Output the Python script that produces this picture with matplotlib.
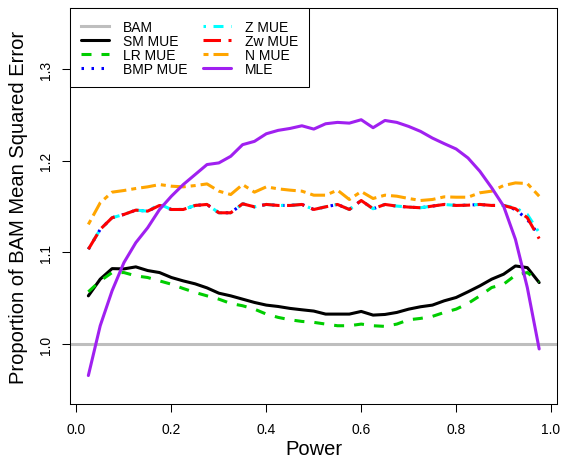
import matplotlib
matplotlib.use("Agg")
import matplotlib.pyplot as plt

plt.rcParams['font.family'] = ['Liberation Sans', 'DejaVu Sans']
plt.rcParams['lines.scale_dashes'] = False

# ---------------- data ----------------
power = [0.025, 0.050, 0.075, 0.100, 0.125, 0.150, 0.175, 0.200, 0.225, 0.250,
         0.275, 0.300, 0.325, 0.350, 0.375, 0.400, 0.425, 0.450, 0.475, 0.500,
         0.525, 0.550, 0.575, 0.600, 0.625, 0.650, 0.675, 0.700, 0.725, 0.750,
         0.775, 0.800, 0.825, 0.850, 0.875, 0.900, 0.925, 0.950, 0.975]

bam_level = 1.0

sm_mue = [1.0525, 1.0707, 1.0822, 1.0819, 1.0841, 1.0801, 1.0779, 1.0725, 1.0688, 1.0656,
          1.0612, 1.0554, 1.0525, 1.0489, 1.0453, 1.0424, 1.0409, 1.0388, 1.0373, 1.0359,
          1.0326, 1.0326, 1.0326, 1.0355, 1.0315, 1.0322, 1.0344, 1.0380, 1.0406, 1.0424,
          1.0471, 1.0507, 1.0569, 1.0634, 1.0707, 1.0761, 1.0851, 1.0833, 1.0670]

lr_mue = [1.0569, 1.0688, 1.0779, 1.0779, 1.0743, 1.0725, 1.0688, 1.0652, 1.0605, 1.0562,
          1.0525, 1.0489, 1.0442, 1.0417, 1.0380, 1.0326, 1.0290, 1.0264, 1.0246, 1.0236,
          1.0217, 1.0199, 1.0199, 1.0217, 1.0199, 1.0192, 1.0217, 1.0264, 1.0279, 1.0301,
          1.0344, 1.0380, 1.0442, 1.0525, 1.0616, 1.0652, 1.0750, 1.0779, 1.0678]

zw_mue = [1.1033, 1.1250, 1.1377, 1.1413, 1.1460, 1.1449, 1.1511, 1.1467, 1.1467, 1.1511,
          1.1522, 1.1431, 1.1431, 1.1529, 1.1496, 1.1522, 1.1511, 1.1511, 1.1522, 1.1467,
          1.1496, 1.1522, 1.1467, 1.1565, 1.1475, 1.1522, 1.1504, 1.1493, 1.1486, 1.1504,
          1.1522, 1.1511, 1.1514, 1.1522, 1.1511, 1.1511, 1.1475, 1.1377, 1.1149]

z_mue = [1.1033, 1.1250, 1.1377, 1.1413, 1.1460, 1.1449, 1.1525, 1.1467, 1.1467, 1.1511,
         1.1522, 1.1431, 1.1431, 1.1529, 1.1496, 1.1522, 1.1511, 1.1511, 1.1522, 1.1467,
         1.1496, 1.1522, 1.1467, 1.1565, 1.1475, 1.1522, 1.1504, 1.1493, 1.1486, 1.1504,
         1.1522, 1.1511, 1.1514, 1.1522, 1.1511, 1.1511, 1.1485, 1.1413, 1.1214]

bmp_mue = [1.1033, 1.1250, 1.1377, 1.1413, 1.1460, 1.1449, 1.1511, 1.1467, 1.1467, 1.1511,
           1.1522, 1.1431, 1.1431, 1.1529, 1.1496, 1.1522, 1.1511, 1.1511, 1.1522, 1.1467,
           1.1496, 1.1522, 1.1467, 1.1565, 1.1475, 1.1522, 1.1504, 1.1493, 1.1486, 1.1504,
           1.1522, 1.1511, 1.1514, 1.1522, 1.1511, 1.1511, 1.1467, 1.1359, 1.1185]

n_mue = [1.1304, 1.1540, 1.1656, 1.1674, 1.1696, 1.1714, 1.1739, 1.1721, 1.1714, 1.1728,
         1.1746, 1.1667, 1.1630, 1.1739, 1.1656, 1.1714, 1.1692, 1.1678, 1.1667, 1.1623,
         1.1623, 1.1678, 1.1576, 1.1663, 1.1587, 1.1623, 1.1612, 1.1587, 1.1565, 1.1576,
         1.1605, 1.1601, 1.1601, 1.1649, 1.1667, 1.1728, 1.1757, 1.1750, 1.1612]

mle = [0.9656, 1.0199, 1.0580, 1.0888, 1.1105, 1.1268, 1.1467, 1.1612, 1.1739, 1.1848,
       1.1957, 1.1975, 1.2047, 1.2174, 1.2210, 1.2293, 1.2330, 1.2351, 1.2380, 1.2344,
       1.2402, 1.2417, 1.2409, 1.2446, 1.2359, 1.2438, 1.2417, 1.2373, 1.2319, 1.2246,
       1.2185, 1.2127, 1.2029, 1.1884, 1.1703, 1.1504, 1.1141, 1.0616, 0.9946]

xticks = [0.0, 0.2, 0.4, 0.6, 0.8, 1.0]
xtick_labels = ["0.0", "0.2", "0.4", "0.6", "0.8", "1.0"]
yticks = [1.0, 1.1, 1.2, 1.3]
ytick_labels = ["1.0", "1.1", "1.2", "1.3"]

# ---------------- figure ----------------
fig = plt.figure(figsize=(5.63, 4.60), dpi=100)
ax = fig.add_axes([0.1249, 0.1185, 0.8648, 0.861])

LW = 2.2
U = 1.8  # R lty unit in points
common = dict(linewidth=LW, dash_capstyle='butt', solid_capstyle='round')

ax.axhline(bam_level, color='#BEBEBE', linewidth=LW, label='BAM')
ax.plot(power, sm_mue, color='black', linestyle='-', label='SM MUE', **common)
ax.plot(power, lr_mue, color='#00CD00', linestyle=(0, (4 * U, 4 * U)), label='LR MUE', **common)
ax.plot(power, bmp_mue, color='blue', linestyle=(0, (1 * U, 3 * U)), label='BMP MUE', **common)
ax.plot(power, z_mue, color='cyan', linestyle=(0, (1 * U, 3 * U, 4 * U, 3 * U)), label='Z MUE', **common)
ax.plot(power, zw_mue, color='red', linestyle=(0, (7 * U, 3 * U)), label='Zw MUE', **common)
ax.plot(power, n_mue, color='orange', linestyle=(0, (2 * U, 2 * U, 6 * U, 2 * U)), label='N MUE', **common)
ax.plot(power, mle, color='#A020F0', linestyle='-', label='MLE', **common)

ax.set_xlim(-0.013, 1.013)
ax.set_ylim(0.934, 1.366)

ax.set_xticks(xticks)
ax.set_xticklabels(xtick_labels)
ax.set_yticks(yticks)
ax.set_yticklabels(ytick_labels)
ax.tick_params(axis='both', direction='out', length=5.5, width=0.75, labelsize=10, pad=7)
ax.tick_params(axis='y', labelrotation=90)
for lab in ax.get_yticklabels():
    lab.set_va('center')

for sp in ax.spines.values():
    sp.set_linewidth(0.75)
    sp.set_color('black')

ax.set_xlabel('Power', fontsize=14.5, labelpad=2)
ax.set_ylabel('Proportion of BAM Mean Squared Error', fontsize=14.5, labelpad=8)

leg = ax.legend(loc='upper left', bbox_to_anchor=(0, 1), borderaxespad=0, ncol=2,
                frameon=True, fancybox=False, edgecolor='black', framealpha=1,
                fontsize=10, handlelength=2.0, handletextpad=1.0, columnspacing=1.1,
                labelspacing=0.0, borderpad=0.8)
leg.get_frame().set_linewidth(0.75)

fig.savefig('out.png', dpi=100)
